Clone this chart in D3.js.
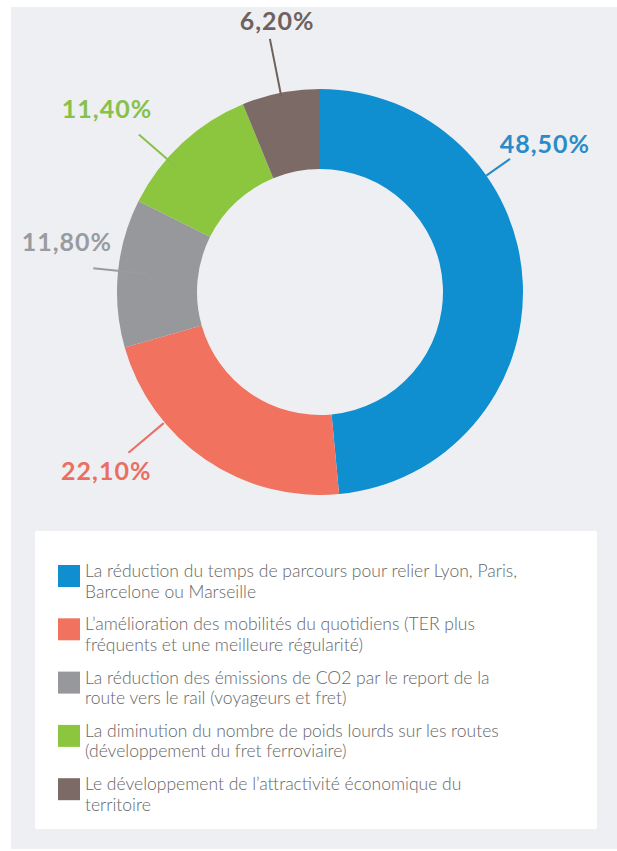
<!DOCTYPE html>
<html lang="fr">
<head>
    <meta charset="utf-8">
    <title>Donut</title>
    <script src="https://d3js.org/d3.v7.min.js"></script>
    <style type="text/css">
        body { margin: 0; background: #fff; }
    </style>
</head>
<body>
<script type="text/javascript">
    // data
    var categories = [
        "La réduction du temps de parcours pour relier Lyon, Paris,|Barcelone ou Marseille",
        "L’amélioration des mobilités du quotidiens (TER plus|fréquents et une meilleure régularité)",
        "La réduction des émissions de CO2 par le report de la|route vers le rail (voyageurs et fret)",
        "La diminution du nombre de poids lourds sur les routes|(développement du fret ferroviaire)",
        "Le développement de l’attractivité économique du|territoire"
    ];
    var values = [48.5, 22.1, 11.8, 11.4, 6.2];
    var valueLabels = ["48,50%", "22,10%", "11,80%", "11,40%", "6,20%"];

    // colours
    var colors = ["#0f8fd0", "#f1735f", "#97989c", "#8cc63f", "#7b6a66"];
    var textColors = ["#2b8bc6", "#ea6f62", "#9a9b9f", "#86c14a", "#6f625e"];

    // leader lines: angle (deg, clockwise from top), from r0 to r1; label at labelAngle / labelR
    var leaderAngle = [55, 230, 276, 311, 348.8];
    var leaderR0 = [203, 204, 174, 190, 200];
    var leaderR1 = [232, 250, 228, 240, 258];
    var labelAngle = [56.7, 230, 281.2, 310.7, 351];
    var labelR = [269, 279, 258, 281, 274];

    var w = 617, h = 851;
    var cx = 320, cy = 292;
    var outerR = 203, innerR = 123;

    var svg = d3.select("body")
        .append("svg")
        .attr("width", w)
        .attr("height", h);

    //background panel
    svg.append("rect")
        .attr("x", 11).attr("y", 7)
        .attr("width", w - 11).attr("height", 842)
        .attr("fill", "#eeeff3");

    var pie = d3.pie().sort(null).value(function(d) { return d; });
    var arc = d3.arc().innerRadius(innerR).outerRadius(outerR);

    var g = svg.append("g")
        .attr("transform", "translate(" + cx + "," + cy + ")");

    g.selectAll("path")
        .data(pie(values))
        .enter()
        .append("path")
        .attr("d", arc)
        .attr("fill", function(d, i) { return colors[i]; });

    function polar(deg, r) {
        var a = deg * Math.PI / 180;
        return [Math.sin(a) * r, -Math.cos(a) * r];
    }

    //leader lines
    g.selectAll("line.leader")
        .data(values)
        .enter()
        .append("line")
        .attr("class", "leader")
        .attr("x1", function(d, i) { return polar(leaderAngle[i], leaderR0[i])[0]; })
        .attr("y1", function(d, i) { return polar(leaderAngle[i], leaderR0[i])[1]; })
        .attr("x2", function(d, i) { return polar(leaderAngle[i], leaderR1[i])[0]; })
        .attr("y2", function(d, i) { return polar(leaderAngle[i], leaderR1[i])[1]; })
        .attr("stroke", function(d, i) { return textColors[i]; })
        .attr("stroke-width", 2);

    //value labels
    g.selectAll("text.val")
        .data(valueLabels)
        .enter()
        .append("text")
        .attr("class", "val")
        .text(function(d) { return d; })
        .attr("x", function(d, i) { return polar(labelAngle[i], labelR[i])[0]; })
        .attr("y", function(d, i) { return polar(labelAngle[i], labelR[i])[1]; })
        .attr("dy", "0.36em")
        .attr("text-anchor", "middle")
        .attr("font-family", "Lato, sans-serif")
        .attr("font-weight", 700)
        .attr("font-size", "25px")
        .attr("letter-spacing", "1px")
        .attr("fill", function(d, i) { return textColors[i]; });

    //legend
    var legendX = 35, legendY = 531;
    svg.append("rect")
        .attr("x", legendX).attr("y", legendY)
        .attr("width", 562).attr("height", 298)
        .attr("fill", "#ffffff");

    var rowStep = 53.3, lineH = 20.5, firstTop = 565;

    var items = svg.selectAll("g.item")
        .data(categories)
        .enter()
        .append("g")
        .attr("class", "item")
        .attr("transform", function(d, i) { return "translate(0," + (firstTop + i * rowStep) + ")"; });

    items.append("rect")
        .attr("x", 58).attr("y", 0)
        .attr("width", 22).attr("height", 22)
        .attr("fill", function(d, i) { return colors[i]; });

    items.append("text")
        .attr("x", 85)
        .attr("font-family", "Lato, sans-serif")
        .attr("font-weight", 300)
        .attr("font-size", "17.5px")
        .attr("fill", "#666666")
        .selectAll("tspan")
        .data(function(d) { return d.split("|"); })
        .enter()
        .append("tspan")
        .attr("x", 85)
        .attr("y", function(d, j) { return 12 + j * lineH; })
        .text(function(d) { return d; });
</script>
</body>
</html>
